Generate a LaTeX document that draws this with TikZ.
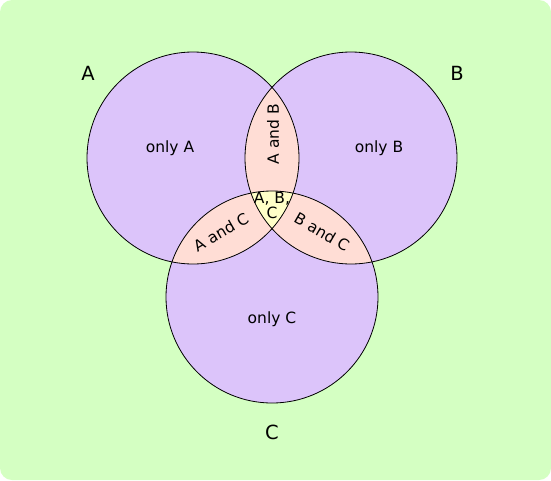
\documentclass[tikz,border=0pt]{standalone}
\usepackage{fontspec}
\setmainfont{DejaVu Sans}
\usepackage{tikz}
\usetikzlibrary{positioning, calc}

\definecolor{bggreen}{RGB}{212,255,194}
\definecolor{setpurple}{RGB}{220,196,250}
\definecolor{pairpink}{RGB}{255,221,213}
\definecolor{allyellow}{RGB}{255,255,200}

\def\circA{(193,158) circle (106)}
\def\circB{(351,158) circle (106)}
\def\circC{(272,297) circle (106)}

\begin{document}
\begin{tikzpicture}[
    x=1pt, y=-1pt,
    region/.style={font=\fontsize{15.5}{17}\selectfont, align=center, inner sep=1pt},
    setname/.style={font=\fontsize{19.5}{21}\selectfont}
]
    \useasboundingbox (0,0) rectangle (551,480);
    \fill[bggreen, rounded corners=12pt] (0,0) rectangle (551,480);

    % set fills
    \fill[setpurple] \circA \circB \circC;
    \begin{scope}
        \clip \circA;
        \fill[pairpink] \circB \circC;
    \end{scope}
    \begin{scope}
        \clip \circB;
        \fill[pairpink] \circC;
    \end{scope}
    \begin{scope}
        \clip \circA;
        \clip \circB;
        \fill[allyellow] \circC;
    \end{scope}
    \draw[black, line width=0.8pt] \circA \circB \circC;

    % set names
    \node[setname] (nameA) at (88,73) {A};
    \node[setname] (nameB) at (457,73) {B};
    \node[setname] (nameC) at (272,432) {C};

    % regions
    \node[region] (onlyA) at (170,148) {only A};
    \node[region] (onlyB) at (379,148) {only B};
    \node[region] (onlyC) at (272,319) {only C};
    \node[region, rotate=90] (ab) at (273,134) {A and B};
    \node[region, rotate=30] (ac) at (221,232) {A and C};
    \node[region, rotate=-30] (bc) at (322,232) {B and C};
    \node[region, inner sep=0pt] (abc) at (272,205) {A, B,\\[-2pt]C};
\end{tikzpicture}
\end{document}
